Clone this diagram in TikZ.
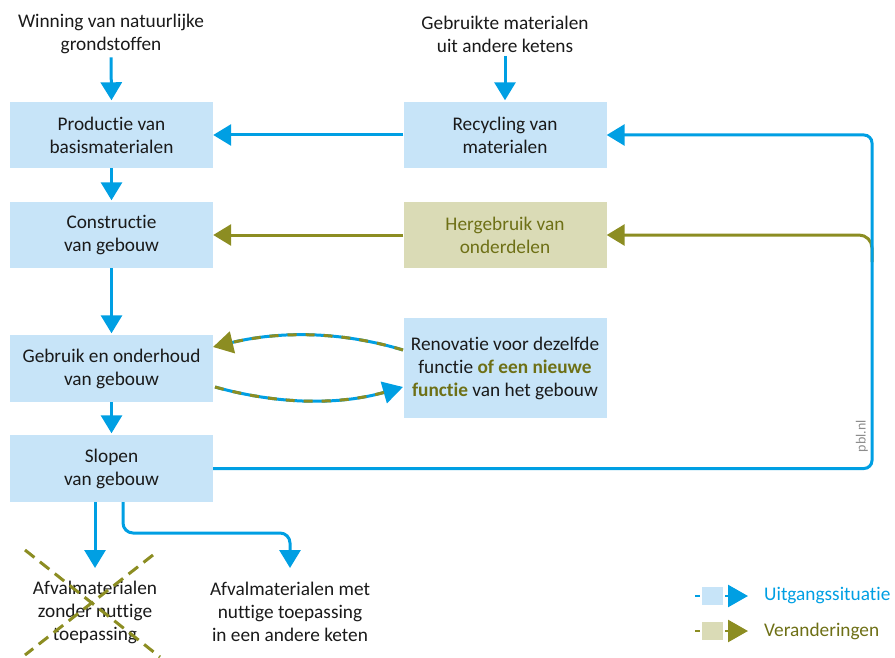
\documentclass[tikz,border=0pt]{standalone}
\usepackage{fontspec}
\setmainfont{Carlito}[Ligatures={NoCommon}]
\usetikzlibrary{arrows.meta}
\definecolor{pblblue}{HTML}{009FE3}
\definecolor{boxblue}{HTML}{C7E4F8}
\definecolor{chgline}{HTML}{8C8D22}
\definecolor{chgfill}{HTML}{DADBB6}
\definecolor{chgtext}{HTML}{6E7016}
\definecolor{inktext}{HTML}{1A1A1A}
\definecolor{marktext}{HTML}{8C8C8C}
\begin{document}
\begin{tikzpicture}[x=1pt,y=-1pt,
  base/.style={font=\fontsize{19.3}{23}\selectfont, text=inktext, align=center},
  box/.style={base, fill=boxblue, minimum width=203pt, minimum height=66pt, inner sep=0pt},
  chgbox/.style={box, fill=chgfill, text=chgtext},
  tip/.style={-{Triangle[length=18pt,width=21pt]}},
  flow/.style={tip, draw=pblblue, line width=3pt, shorten >=1.5pt},
  chgflow/.style={tip, draw=chgline, line width=3pt, shorten >=1.5pt},
  mixline/.style={line width=3pt, draw=pblblue},
  mixdash/.style={line width=3pt, draw=chgline, dash pattern=on 9pt off 9pt},
  bigtip/.style={-{Triangle[length=20pt,width=22pt,#1]}},
  crossline/.style={draw=chgline, line width=3pt, dash pattern=on 12pt off 7pt},
  legtext/.style={font=\fontsize{19.3}{23}\selectfont, anchor=west, inner sep=0pt}
]
\useasboundingbox (0,0) rectangle (895,658);

% process boxes
\node[box] (prod) at (111.5,135) {Productie van\\basismaterialen};
\node[box] (rec) at (505,135) {Recycling van\\materialen};
\node[box] (cons) at (111.5,235) {Constructie\\van gebouw};
\node[chgbox] (herg) at (505,235) {Hergebruik van\\onderdelen};
\node[box, minimum height=67pt] (gebr) at (111.5,368.5) {Gebruik en onderhoud\\van gebouw};
\node[box, minimum height=100pt] (reno) at (505,368)
  {Renovatie voor dezelfde\\functie \textbf{\color{chgtext}of een nieuwe}\\\textbf{\color{chgtext}functie} van het gebouw};
\node[box, minimum height=67pt] (slop) at (111.5,468.5) {Slopen\\van gebouw};

% inputs at the top
\node[base] (win) at (111,34) {Winning van natuurlijke\\grondstoffen};
\node[base] (gebm) at (505,34) {Gebruikte materialen\\uit andere ketens};

% outputs at the bottom
\node[base] (waste1) at (95,612) {Afvalmaterialen\\zonder nuttige\\toepassing};
\node[base] (waste2) at (290,612) {Afvalmaterialen met\\nuttige toepassing\\in een andere keten};

% main flow
\draw[flow] (win.south) -- (prod.north);
\draw[flow] (gebm.south) -- (rec.north);
\draw[flow] (prod.south) -- (cons.north);
\draw[flow] (cons.south) -- (gebr.north);
\draw[flow] (gebr.south) -- (slop.north);
\draw[flow, shorten >=0pt] (rec.west) -- (prod.east);
\draw[chgflow, shorten >=0pt] (herg.west) -- (cons.east);

% return loop on the right
\coordinate (loopTop) at (872,135);
\coordinate (branch) at (872,262);
\draw[chgflow, shorten >=0pt, rounded corners=13pt] (branch) |- (herg.east);
\draw[flow, shorten >=0pt, rounded corners=8pt] (slop.east) -| (loopTop) -- (rec.east);
\node[rotate=90, font=\fontsize{14}{14}\selectfont, text=marktext, inner sep=0pt] (mark) at (862,436) {pbl.nl};

% renovation arcs
\coordinate (r1) at (403,350);
\coordinate (g1) at (213,347);
\coordinate (c1a) at (340,331);
\coordinate (c1b) at (280,331);
\coordinate (g2) at (215,387);
\coordinate (r2) at (403,387);
\coordinate (c2a) at (280,405);
\coordinate (c2b) at (340,405);
\draw[mixline, bigtip={color=chgline}] (r1) .. controls (c1a) and (c1b) .. (g1);
\draw[mixdash, shorten >=18pt] (r1) .. controls (c1a) and (c1b) .. (g1);
\draw[mixline, bigtip={color=pblblue}] (g2) .. controls (c2a) and (c2b) .. (r2);
\draw[mixdash, shorten >=18pt] (g2) .. controls (c2a) and (c2b) .. (r2);

% waste streams
\coordinate (d1) at (95,568);
\coordinate (d2s) at (123,502);
\coordinate (d2k) at (200,533);
\coordinate (d2) at (290,568);
\draw[flow, shorten >=0pt] (slop.south -| d1) -- (d1);
\draw[flow, shorten >=0pt, rounded corners=10pt] (d2s) |- (d2k) -| (d2);

% crossed out
\coordinate (x1) at (25,550);
\coordinate (x2) at (160,657);
\coordinate (x3) at (153,555);
\coordinate (x4) at (25,655);
\draw[crossline] (x1) -- (x2);
\draw[crossline] (x3) -- (x4);

% legend
\coordinate (la) at (695,596);
\coordinate (lb) at (748,596);
\coordinate (lc) at (695,631);
\coordinate (ld) at (748,631);
\draw[pblblue, line width=2.6pt, bigtip={color=pblblue}] (la) -- (lb);
\node[fill=boxblue, draw=white, line width=1.5pt, minimum width=23pt, minimum height=20pt, inner sep=0pt] (lbox1) at (712.5,596) {};
\node[legtext, text=pblblue] (ltext1) at (764,596) {Uitgangssituatie};
\draw[chgline, line width=2.6pt, bigtip={color=chgline}] (lc) -- (ld);
\node[fill=chgfill, draw=white, line width=1.5pt, minimum width=23pt, minimum height=20pt, inner sep=0pt] (lbox2) at (712.5,631) {};
\node[legtext, text=chgtext] (ltext2) at (764,631) {Veranderingen};
\end{tikzpicture}
\end{document}
